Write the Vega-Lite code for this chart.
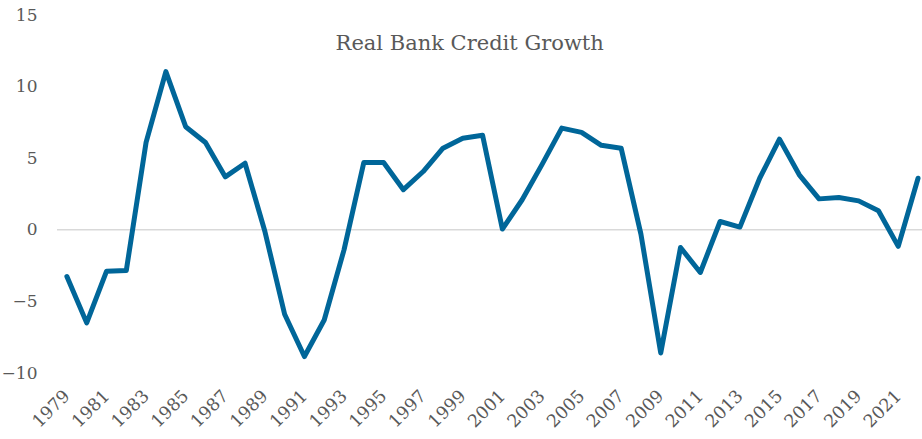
{
  "$schema": "https://vega.github.io/schema/vega-lite/v6.json",
  "autosize": {"type": "none"},
  "width": 865,
  "height": 358,
  "padding": {"left": 57, "top": 15, "right": 0, "bottom": 66},
  "background": "white",
  "config": {
    "view": {"stroke": null},
    "font": "DejaVu Serif"
  },
  "layer": [
    {
      "data": {"values": [{"baseline": 0}]},
      "mark": {"type": "rule", "color": "#d9d9d9", "strokeWidth": 1.5},
      "encoding": {"y": {"field": "baseline", "type": "quantitative"}}
    },
    {
      "data": {
        "values": [
          {"year": 1979, "growth": -3.26},
          {"year": 1980, "growth": -6.5},
          {"year": 1981, "growth": -2.9},
          {"year": 1982, "growth": -2.85},
          {"year": 1983, "growth": 6.1},
          {"year": 1984, "growth": 11.05},
          {"year": 1985, "growth": 7.2},
          {"year": 1986, "growth": 6.1},
          {"year": 1987, "growth": 3.7},
          {"year": 1988, "growth": 4.65},
          {"year": 1989, "growth": -0.1},
          {"year": 1990, "growth": -5.9},
          {"year": 1991, "growth": -8.85},
          {"year": 1992, "growth": -6.3},
          {"year": 1993, "growth": -1.4},
          {"year": 1994, "growth": 4.7},
          {"year": 1995, "growth": 4.7},
          {"year": 1996, "growth": 2.8},
          {"year": 1997, "growth": 4.07},
          {"year": 1998, "growth": 5.7},
          {"year": 1999, "growth": 6.4},
          {"year": 2000, "growth": 6.6},
          {"year": 2001, "growth": 0.05},
          {"year": 2002, "growth": 2.1},
          {"year": 2003, "growth": 4.55},
          {"year": 2004, "growth": 7.1},
          {"year": 2005, "growth": 6.8},
          {"year": 2006, "growth": 5.9},
          {"year": 2007, "growth": 5.7},
          {"year": 2008, "growth": -0.3},
          {"year": 2009, "growth": -8.6},
          {"year": 2010, "growth": -1.24},
          {"year": 2011, "growth": -2.98},
          {"year": 2012, "growth": 0.58},
          {"year": 2013, "growth": 0.19},
          {"year": 2014, "growth": 3.6},
          {"year": 2015, "growth": 6.33},
          {"year": 2016, "growth": 3.84},
          {"year": 2017, "growth": 2.16},
          {"year": 2018, "growth": 2.26},
          {"year": 2019, "growth": 2.02},
          {"year": 2020, "growth": 1.33},
          {"year": 2021, "growth": -1.16},
          {"year": 2022, "growth": 3.6}
        ]
      },
      "mark": {"type": "line", "color": "#006699", "strokeWidth": 5, "strokeJoin": "round", "strokeCap": "round"},
      "encoding": {
        "x": {
          "field": "year",
          "type": "quantitative",
          "scale": {"domain": [1978.5, 2022.2], "nice": false, "zero": false},
          "axis": {
            "title": null,
            "values": [1979,1981,1983,1985,1987,1989,1991,1993,1995,1997,1999,2001,2003,2005,2007,2009,2011,2013,2015,2017,2019,2021],
            "format": "d",
            "labelAngle": -45,
            "labelAlign": "right",
            "labelBaseline": "middle",
            "labelPadding": 20,
            "labelFont": "DejaVu Serif",
            "labelFontSize": 17.5,
            "labelColor": "#595959",
            "labelOverlap": false,
            "labelFlush": false,
            "domain": false,
            "ticks": false,
            "grid": false
          }
        },
        "y": {
          "field": "growth",
          "type": "quantitative",
          "scale": {"domain": [-10, 15], "nice": false},
          "axis": {
            "title": null,
            "values": [-10, -5, 0, 5, 10, 15],
            "labelFont": "DejaVu Serif",
            "labelFontSize": 17,
            "labelColor": "#595959",
            "labelPadding": 20,
            "labelFlush": false,
            "domain": false,
            "ticks": false,
            "grid": false
          }
        }
      }
    },
    {
      "data": {"values": [{"label": "Real Bank Credit Growth", "year": 1999.35, "growth": 13.0}]},
      "mark": {"type": "text", "font": "DejaVu Serif", "fontSize": 21, "color": "#595959", "align": "center", "baseline": "middle"},
      "encoding": {
        "text": {"field": "label"},
        "x": {"field": "year", "type": "quantitative"},
        "y": {"field": "growth", "type": "quantitative"}
      }
    }
  ]
}
